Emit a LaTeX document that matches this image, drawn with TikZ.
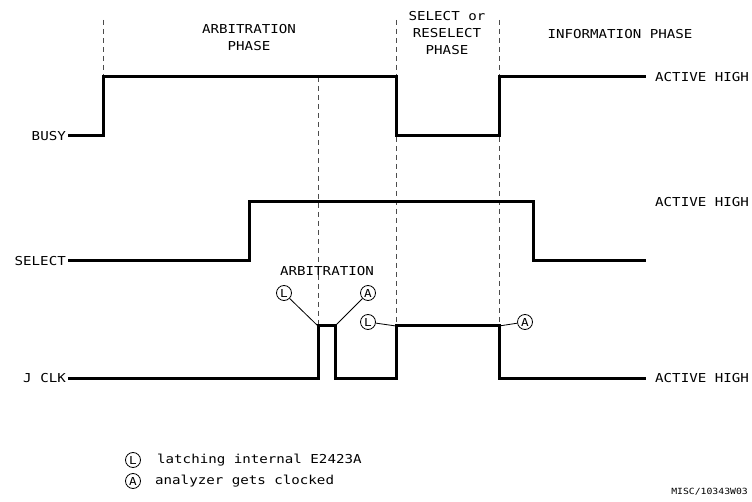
\documentclass[tikz,border=0pt]{standalone}
\usepackage{fontspec}
\newfontfamily\plotfont[FakeStretch=1.15]{DejaVu Sans Mono}
\newcommand{\lblfont}{\plotfont\fontsize{12.3}{17}\selectfont}
\newcommand{\smallfont}{\plotfont\fontsize{8.5}{10}\selectfont}
\tikzset{
  sig/.style={line width=3pt, line join=miter},
  phaseline/.style={draw=black!70, line width=0.8pt, dash pattern=on 5pt off 4pt},
  lead/.style={line width=0.8pt},
  mk/.style={circle, draw, line width=0.8pt, minimum size=15pt, inner sep=0pt, font=\plotfont\fontsize{11}{12}\selectfont},
  lbl/.style={font=\lblfont, inner sep=0pt, align=center},
}
\begin{document}
\begin{tikzpicture}[x=1pt,y=-1pt]
\useasboundingbox (0,0) rectangle (752,502);
% phase boundaries
\draw[phaseline] (103,20) -- (103,77);
\draw[phaseline] (318,77) -- (318,326);
\draw[phaseline] (396,20) -- (396,326);
\draw[phaseline] (499,20) -- (499,326);
% phase titles
\node[lbl] (arbph) at (249,38) {ARBITRATION\\PHASE};
\node[lbl] (selph) at (447,33) {SELECT or\\RESELECT\\PHASE};
\node[lbl] (infph) at (620,34) {INFORMATION PHASE};
% signal labels
\node[lbl, anchor=east] (busy) at (66,136) {BUSY};
\node[lbl, anchor=east] (select) at (66,261) {SELECT};
\node[lbl, anchor=east] (jclk) at (66,378) {J CLK};
\node[lbl, anchor=west] (ah1) at (655,77) {ACTIVE HIGH};
\node[lbl, anchor=west] (ah2) at (655,202) {ACTIVE HIGH};
\node[lbl, anchor=west] (ah3) at (655,378) {ACTIVE HIGH};
% waveforms
\draw[sig] (68,136) -- (103,136) -- (103,77) -- (396,77) -- (396,136) -- (499,136) -- (499,77) -- (646,77);
\draw[sig] (68,261) -- (249,261) -- (249,202) -- (533,202) -- (533,261) -- (646,261);
\draw[sig] (68,378) -- (318,378) -- (318,326) coordinate (p1) -- (335,326) coordinate (p2) -- (335,378) -- (396,378) -- (396,326) coordinate (p3) -- (499,326) coordinate (p4) -- (499,378) -- (646,378);
% annotations
\node[lbl] (arb) at (327,271) {ARBITRATION};
\node[mk] (l1) at (284,293) {L};
\node[mk] (a1) at (368,293) {A};
\node[mk] (l2) at (368,322) {L};
\node[mk] (a2) at (525,322) {A};
\draw[lead] (l1) -- (p1);
\draw[lead] (a1) -- (p2);
\draw[lead] (l2) -- (p3);
\draw[lead] (a2) -- (p4);
% legend
\node[mk] (lk1) at (133,460) {L};
\node[lbl, anchor=west] (lt1) at (157,460) {latching internal E2423A};
\node[mk] (lk2) at (133,481) {A};
\node[lbl, anchor=west] (lt2) at (155,481) {analyzer gets clocked};
\node[font=\smallfont, inner sep=0pt, anchor=east] (misc) at (748,492) {MISC/10343W03};
\end{tikzpicture}
\end{document}
